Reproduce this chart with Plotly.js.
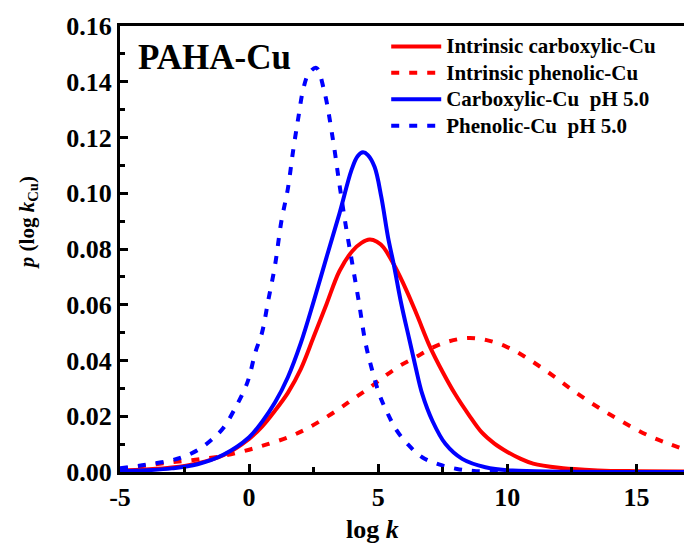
<!DOCTYPE html>
<html>
<head>
<meta charset="utf-8">
<script src="https://cdn.plot.ly/plotly-3.0.1.min.js"></script>
<style>html,body{margin:0;padding:0;background:#fff;}#chart{width:684px;height:545px;}</style>
</head>
<body>
<div id="chart"></div>
<script>
// Series names
const seriesNames = ["Intrinsic carboxylic-Cu", "Intrinsic phenolic-Cu", "Carboxylic-Cu\u00a0\u00a0pH 5.0", "Phenolic-Cu\u00a0\u00a0pH 5.0"];

// Intrinsic carboxylic-Cu (red solid)
const carbIntX = [-5, -4, -3, -2, -1, 0, 0.5, 1, 1.5, 2, 2.5, 3, 3.5, 4, 4.35, 4.67, 4.95, 5.2, 5.6, 6.1, 6.5, 7, 7.5, 8, 8.5, 9, 9.5, 10, 10.5, 11, 12, 13, 14, 15, 16.9];
const carbIntY = [0.0005, 0.0009, 0.0016, 0.0031, 0.0060, 0.0119, 0.0163, 0.0220, 0.0284, 0.0369, 0.0485, 0.0603, 0.0721, 0.0793, 0.0822, 0.0834, 0.0826, 0.0806, 0.0745, 0.0650, 0.0563, 0.0450, 0.0358, 0.0276, 0.0206, 0.0143, 0.0102, 0.0072, 0.0048, 0.0030, 0.0015, 0.0008, 0.0004, 0.0003, 0.0002];

// Intrinsic phenolic-Cu (red dotted)
const phenIntX = [-5, -4, -3, -2, -1, 0, 0.75, 1.5, 2.1, 2.7, 3.4, 4, 4.6, 5.2, 5.8, 6.45, 7.1, 7.75, 8.5, 9.2, 9.95, 10.6, 11.2, 11.85, 12.4, 13.0, 13.6, 14.25, 14.9, 15.55, 16.2, 16.84];
const phenIntY = [0.0010, 0.0023, 0.0035, 0.0045, 0.0058, 0.0080, 0.0101, 0.0124, 0.0149, 0.0180, 0.0221, 0.0260, 0.0298, 0.0340, 0.0379, 0.0412, 0.0446, 0.0469, 0.0481, 0.0473, 0.0450, 0.0418, 0.0382, 0.0340, 0.0302, 0.0263, 0.0227, 0.0191, 0.0157, 0.0127, 0.0103, 0.0081];

// Carboxylic-Cu pH 5.0 (blue solid)
const carbPhX = [-5, -4, -3, -2, -1, 0, 0.5, 1, 1.5, 2, 2.5, 3, 3.5, 3.96, 4.2, 4.41, 4.6, 4.86, 5.12, 5.38, 5.6, 5.9, 6.2, 6.45, 6.7, 7.1, 7.6, 8.25, 9.15, 10.2, 12, 14, 16.9];
const carbPhY = [0.0003, 0.0006, 0.0013, 0.0028, 0.0062, 0.0125, 0.0180, 0.0249, 0.0340, 0.0462, 0.0612, 0.0771, 0.0928, 0.1082, 0.1133, 0.1147, 0.1137, 0.1094, 0.0986, 0.0842, 0.0745, 0.0600, 0.0477, 0.0375, 0.0281, 0.0183, 0.0101, 0.0047, 0.0017, 0.0005, 0.0001, 0.0000, 0.0000];

// Phenolic-Cu pH 5.0 (blue dotted)
const phenPhX = [-5, -4, -3, -2.5, -2, -1.5, -1, -0.5, -0.15, 0, 0.25, 0.5, 0.75, 1.0, 1.25, 1.5, 1.7, 1.9, 2.1, 2.3, 2.6, 2.9, 3.25, 3.5, 3.75, 4.0, 4.25, 4.5, 4.75, 5.05, 5.35, 5.7, 6.15, 6.7, 7.35, 8.05, 8.8, 10];
const phenPhY = [0.0013, 0.0026, 0.0042, 0.0056, 0.0078, 0.0112, 0.0158, 0.0236, 0.0302, 0.0340, 0.0432, 0.0500, 0.0620, 0.0740, 0.0900, 0.1016, 0.1150, 0.1268, 0.1375, 0.1428, 0.1450, 0.1370, 0.1190, 0.1030, 0.0880, 0.0745, 0.0610, 0.0466, 0.0370, 0.0277, 0.0213, 0.0151, 0.0099, 0.0053, 0.0027, 0.0011, 0.0003, 0.0001];

// Axis ticks
const xTickVals = [-5, 0, 5, 10, 15];
const xTickText = ["-5", "0", "5", "10", "15"];
const yTickVals = [0, 0.02, 0.04, 0.06, 0.08, 0.10, 0.12, 0.14, 0.16];
const yTickText = ["0.00", "0.02", "0.04", "0.06", "0.08", "0.10", "0.12", "0.14", "0.16"];

const FONT = "Liberation Serif, Times New Roman, serif";
const RED = "#ff0000", BLUE = "#0000ff";
const DOT = "8px,10px";
const big = s => '<span style="font-size:21px">' + s + '</span>';

const traces = [
  {x: carbIntX, y: carbIntY, name: big(seriesNames[0]), mode: "lines", line: {color: RED, width: 4, shape: "spline", smoothing: 1}},
  {x: phenIntX, y: phenIntY, name: big(seriesNames[1]), mode: "lines", line: {color: RED, width: 4, dash: DOT, shape: "spline", smoothing: 1}},
  {x: carbPhX, y: carbPhY, name: big(seriesNames[2]), mode: "lines", line: {color: BLUE, width: 4, shape: "spline", smoothing: 1}},
  {x: phenPhX, y: phenPhY, name: big(seriesNames[3]), mode: "lines", line: {color: BLUE, width: 4, dash: DOT, shape: "spline", smoothing: 1}}
];

const layout = {
  width: 684, height: 545,
  margin: {l: 120, r: 0, t: 26, b: 73},
  paper_bgcolor: "#fff", plot_bgcolor: "#fff",
  font: {family: FONT, color: "#000", size: 20, weight: "bold"},
  showlegend: true,
  legend: {x: 0.472, y: 0.995, xanchor: "left", yanchor: "top", bgcolor: "rgba(0,0,0,0)", borderwidth: 0,
           font: {family: FONT, size: 18, color: "#000", weight: "bold"}, itemwidth: 50, tracegroupgap: 0},
  xaxis: {
    range: [-5, 16.84], showgrid: false, zeroline: false,
    showline: true, linewidth: 3, linecolor: "#000", mirror: true,
    ticks: "inside", ticklen: 8, tickwidth: 3, tickcolor: "#000",
    tickvals: xTickVals, ticktext: xTickText,
    tickfont: {family: FONT, size: 26, color: "#000", weight: "bold"},
    minor: {ticks: "inside", ticklen: 5, tickwidth: 3, tickcolor: "#000", dtick: 2.5, tick0: -5, showgrid: false}
  },
  yaxis: {
    range: [0, 0.16], showgrid: false, zeroline: false,
    showline: true, linewidth: 3, linecolor: "#000",
    ticks: "inside", ticklen: 8, tickwidth: 3, tickcolor: "#000",
    tickvals: yTickVals, ticktext: yTickText,
    tickfont: {family: FONT, size: 26, color: "#000", weight: "bold"},
    minor: {ticks: "inside", ticklen: 5, tickwidth: 3, tickcolor: "#000", dtick: 0.01, tick0: 0, showgrid: false}
  },
  annotations: [
    {text: "<b>PAHA-Cu</b>", xref: "paper", yref: "paper", x: 0.029, y: 0.93, xanchor: "left", yanchor: "middle",
     showarrow: false, font: {family: FONT, size: 35, color: "#000"}},
    {text: "<b>log <i>k</i></b>", xref: "paper", yref: "paper", x: 0.447, y: -0.13, xanchor: "center", yanchor: "middle",
     showarrow: false, font: {family: FONT, size: 26, color: "#000"}},
    {text: "<b><i>p</i> (log <i>k</i><sub>Cu</sub>)</b>", xref: "paper", yref: "paper", x: -0.163, y: 0.558, xanchor: "center", yanchor: "middle",
     textangle: -90, showarrow: false, font: {family: FONT, size: 21, color: "#000"}}
  ]
};

Plotly.newPlot("chart", traces, layout, {staticPlot: true, displayModeBar: false});
</script>
</body>
</html>
